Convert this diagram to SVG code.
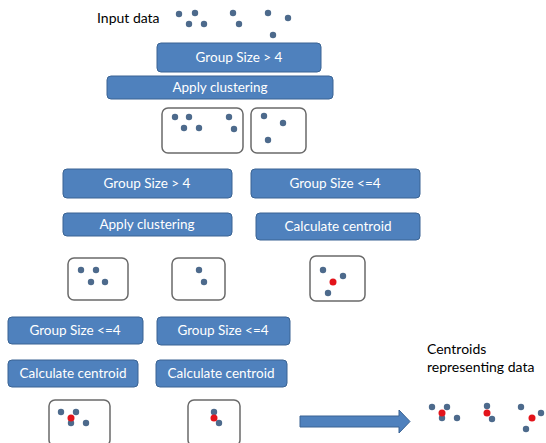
<svg xmlns="http://www.w3.org/2000/svg" width="546" height="443" viewBox="0 0 546 443">
<style>
.b{fill:#4F81BD;stroke:#3A6393;stroke-width:1}
.t{fill:#fff;font-family:Lato,"Open Sans",sans-serif;font-size:13.5px;text-anchor:middle}
.k{fill:#000;font-family:Lato,"Open Sans",sans-serif;font-size:14px}
.c{fill:#fff;stroke:#6A6A6A;stroke-width:1.5}
.d{fill:#4D6A8C}
.r{fill:#E3141B}
</style>
<rect width="546" height="443" fill="#fff"/>
<g id="input">
<text class="k" x="97" y="23">Input data</text>
<circle class="d" cx="179" cy="14" r="3.2"/><circle class="d" cx="195" cy="13" r="3.2"/><circle class="d" cx="189" cy="24" r="3.2"/><circle class="d" cx="204" cy="24" r="3.2"/>
<circle class="d" cx="233" cy="13" r="3.2"/><circle class="d" cx="239" cy="24" r="3.2"/>
<circle class="d" cx="268" cy="13" r="3.2"/><circle class="d" cx="288" cy="18" r="3.2"/><circle class="d" cx="273" cy="35" r="3.2"/>
</g>
<g id="n1"><rect class="b" x="157" y="43" width="164" height="29" rx="4"/><text class="t" x="239" y="62">Group Size &gt; 4</text></g>
<g id="n2"><rect class="b" x="107" y="76" width="226" height="23" rx="4"/><text class="t" x="220" y="92">Apply clustering</text></g>
<g id="c1"><rect class="c" x="162" y="108" width="81" height="45" rx="6"/>
<circle class="d" cx="175" cy="117" r="3.2"/><circle class="d" cx="189" cy="117" r="3.2"/><circle class="d" cx="184" cy="128" r="3.2"/><circle class="d" cx="199" cy="128" r="3.2"/><circle class="d" cx="229" cy="117" r="3.2"/><circle class="d" cx="234" cy="129" r="3.2"/></g>
<g id="c2"><rect class="c" x="251" y="108" width="55" height="45" rx="6"/>
<circle class="d" cx="264" cy="116" r="3.2"/><circle class="d" cx="283" cy="123" r="3.2"/><circle class="d" cx="268" cy="140" r="3.2"/></g>
<g id="n3"><rect class="b" x="63" y="169" width="169" height="29" rx="4"/><text class="t" x="147" y="188">Group Size &gt; 4</text></g>
<g id="n4"><rect class="b" x="251" y="169" width="169" height="29" rx="4"/><text class="t" x="335" y="188">Group Size &lt;=4</text></g>
<g id="n5"><rect class="b" x="63" y="213" width="169" height="23" rx="4"/><text class="t" x="147" y="229">Apply clustering</text></g>
<g id="n6"><rect class="b" x="256" y="213" width="164" height="27" rx="4"/><text class="t" x="338" y="231">Calculate centroid</text></g>
<g id="c3"><rect class="c" x="68" y="258" width="60" height="42" rx="6"/>
<circle class="d" cx="81" cy="270" r="3.2"/><circle class="d" cx="96" cy="270" r="3.2"/><circle class="d" cx="91" cy="282" r="3.2"/><circle class="d" cx="105" cy="282" r="3.2"/></g>
<g id="c4"><rect class="c" x="172" y="258" width="53" height="42" rx="6"/>
<circle class="d" cx="199" cy="270" r="3.2"/><circle class="d" cx="204" cy="282" r="3.2"/></g>
<g id="c5"><rect class="c" x="310" y="256" width="55" height="45" rx="6"/>
<circle class="d" cx="323" cy="270" r="3.2"/><circle class="d" cx="343" cy="276" r="3.2"/><circle class="d" cx="328" cy="293" r="3.2"/><circle class="r" cx="333" cy="282" r="3.5"/></g>
<g id="n7"><rect class="b" x="8" y="317" width="135" height="27" rx="4"/><text class="t" x="75" y="335">Group Size &lt;=4</text></g>
<g id="n8"><rect class="b" x="157" y="317" width="133" height="28" rx="4"/><text class="t" x="223" y="335">Group Size &lt;=4</text></g>
<g id="n9"><rect class="b" x="8" y="360" width="130" height="27" rx="4"/><text class="t" x="73" y="378">Calculate centroid</text></g>
<g id="n10"><rect class="b" x="156" y="360" width="131" height="27" rx="4"/><text class="t" x="221" y="378">Calculate centroid</text></g>
<g id="c6"><rect class="c" x="49" y="400" width="61" height="46" rx="6"/>
<circle class="d" cx="61" cy="412" r="3.2"/><circle class="d" cx="76" cy="412" r="3.2"/><circle class="d" cx="71" cy="423" r="3.2"/><circle class="d" cx="86" cy="423" r="3.2"/><circle class="r" cx="71" cy="418" r="3.5"/></g>
<g id="c7"><rect class="c" x="188" y="400" width="52" height="46" rx="6"/>
<circle class="d" cx="214" cy="412" r="3.2"/><circle class="d" cx="219" cy="423" r="3.2"/><circle class="r" cx="214" cy="418" r="3.5"/></g>
<g id="connectors">
<path d="M300,416 H399 V410 L410,421.5 L399,433 V427 H300 Z" fill="#4F81BD" stroke="#3A6393" stroke-width="1"/>
</g>
<g id="result">
<text class="k" x="427" y="354">Centroids</text>
<text class="k" x="427" y="372">representing data</text>
<circle class="d" cx="432" cy="407" r="3.2"/><circle class="d" cx="447" cy="407" r="3.2"/><circle class="d" cx="442" cy="418" r="3.2"/><circle class="d" cx="457" cy="418" r="3.2"/><circle class="r" cx="442" cy="413" r="3.5"/>
<circle class="d" cx="487" cy="406" r="3.2"/><circle class="d" cx="492" cy="419" r="3.2"/><circle class="r" cx="487" cy="413" r="3.5"/>
<circle class="d" cx="521" cy="407" r="3.2"/><circle class="d" cx="541" cy="413" r="3.2"/><circle class="d" cx="526" cy="429" r="3.2"/><circle class="r" cx="532" cy="418" r="3.5"/>
</g>
</svg>
